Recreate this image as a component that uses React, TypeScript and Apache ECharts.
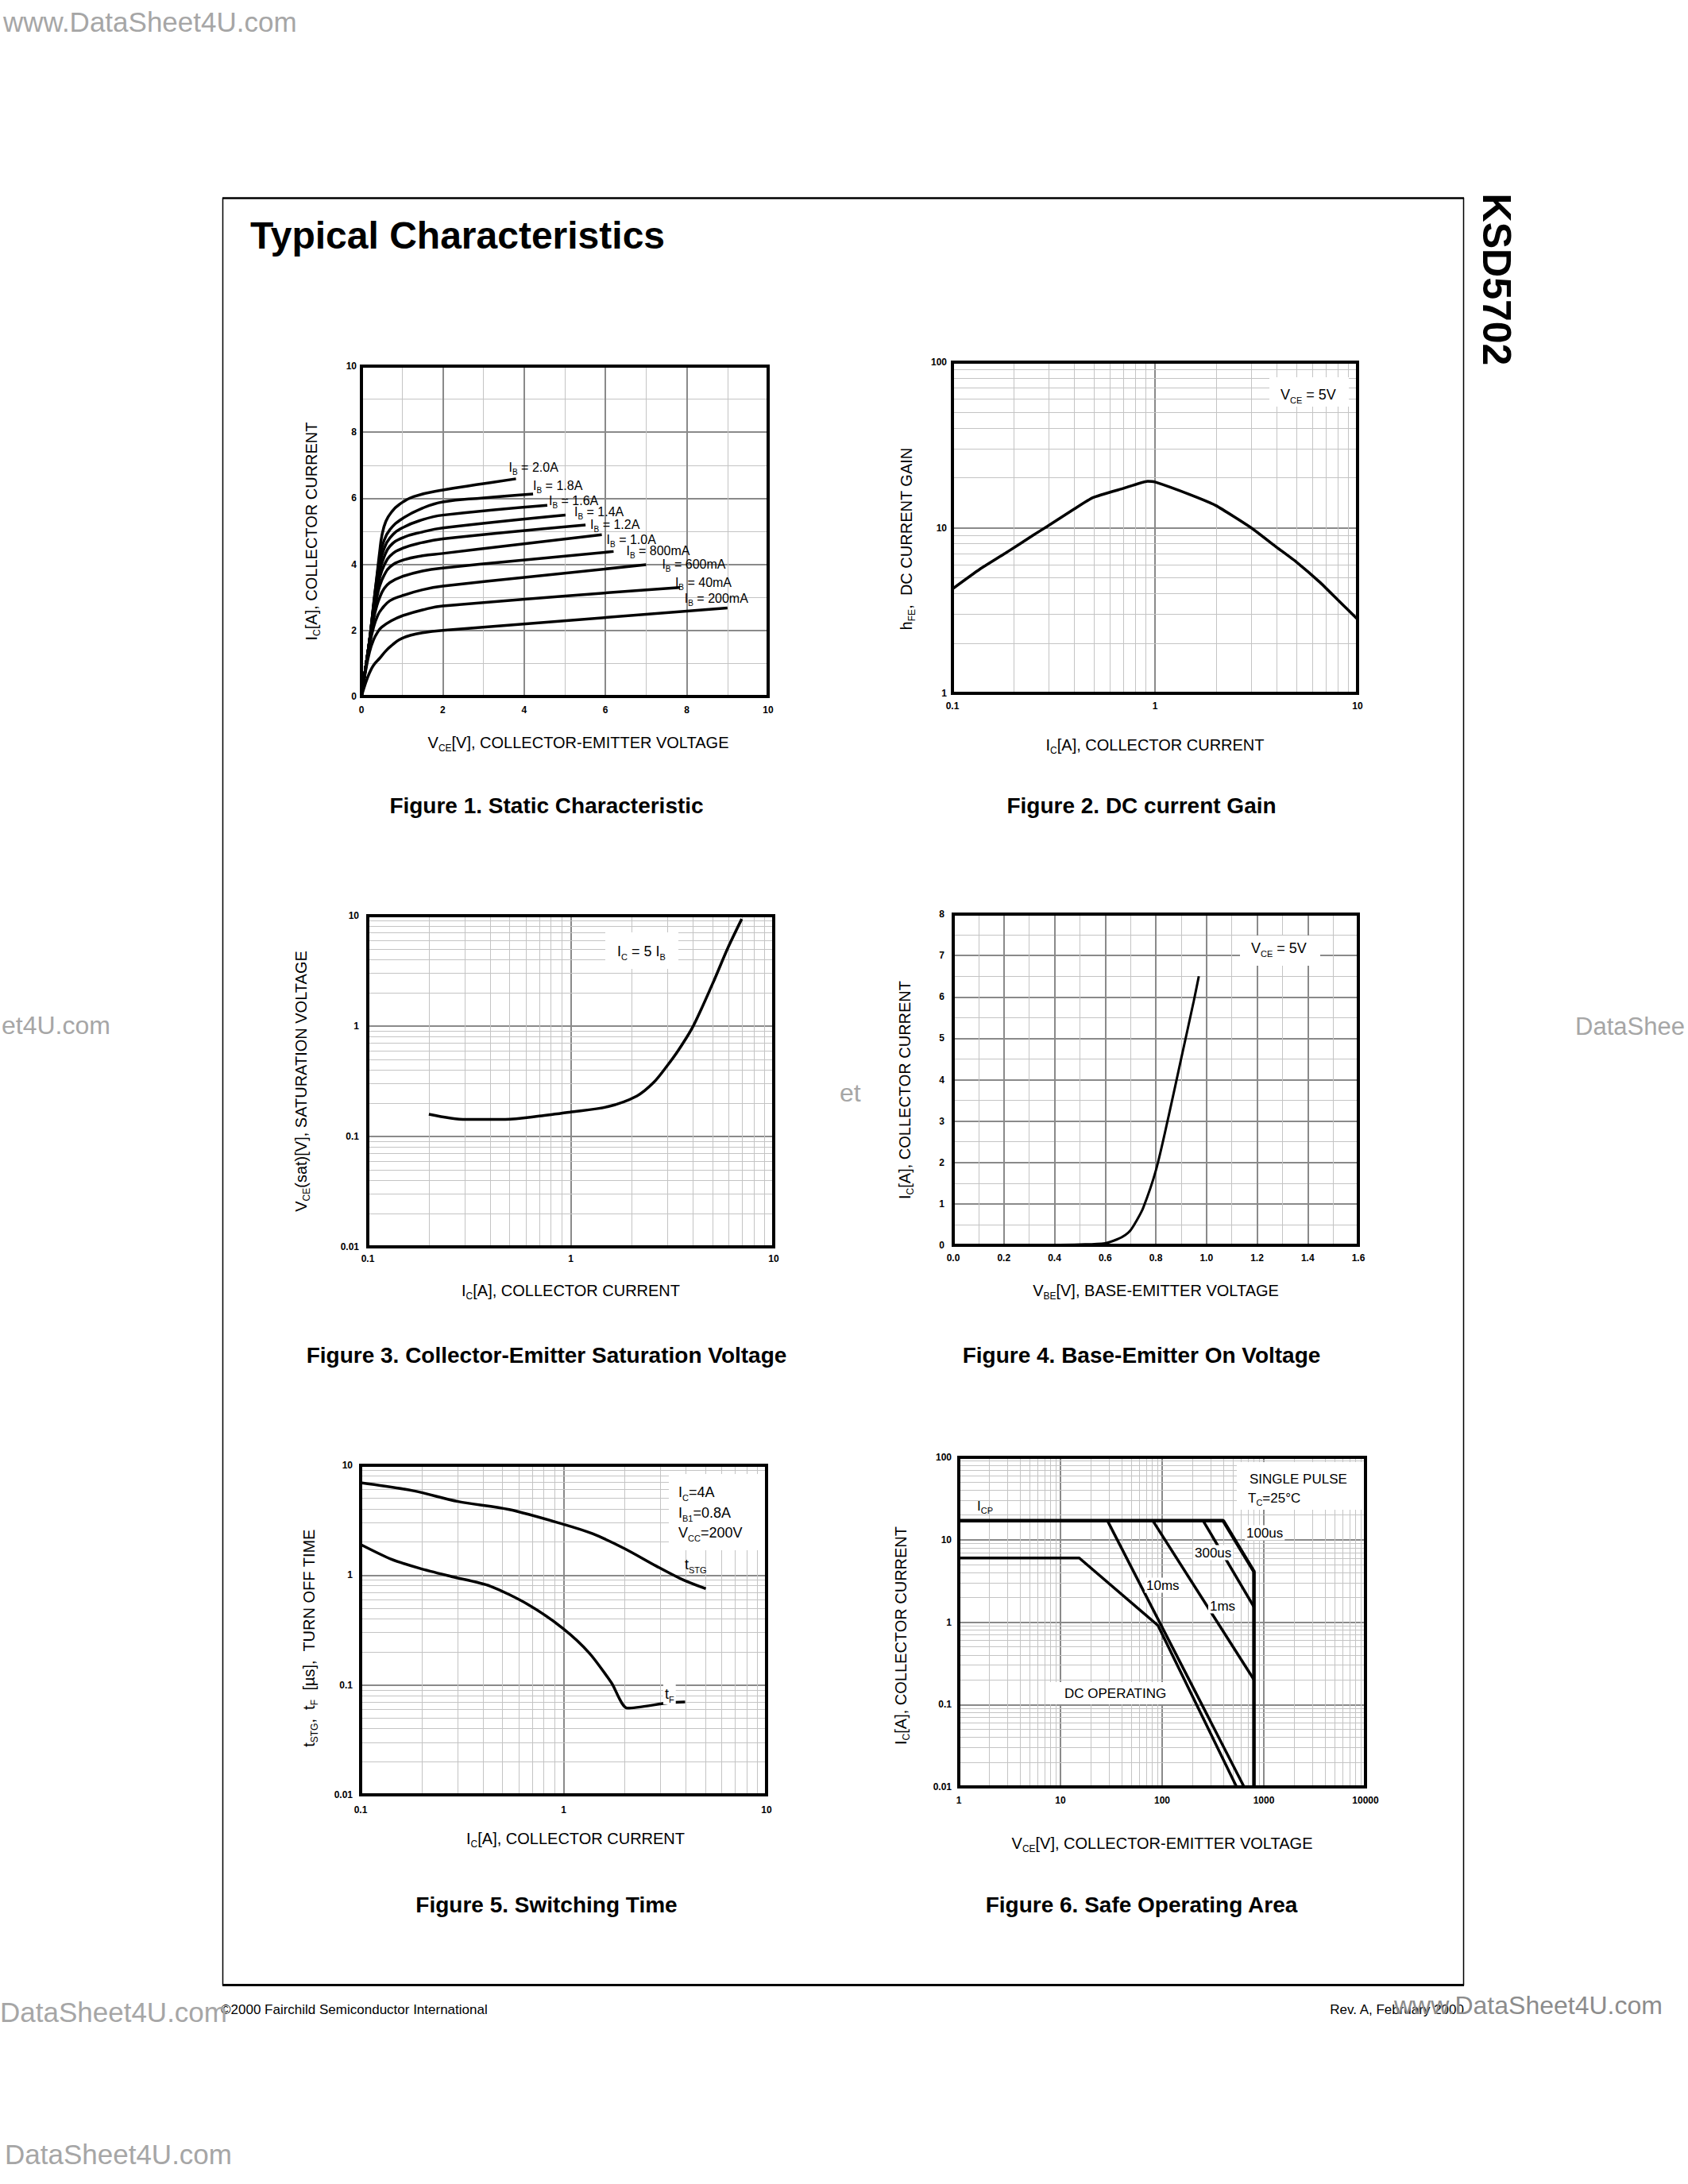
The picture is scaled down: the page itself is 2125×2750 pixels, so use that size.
import React, { useEffect, useRef } from "react";
import * as echarts from "echarts";

const F = "'Liberation Sans', Arial, Helvetica, sans-serif";

// ---------------- Figure 1: static characteristic [VCE (V), IC (A)] ----------------
const ib2000mA = [[0, 0], [0.1, 0.85], [0.2, 1.7], [0.3, 2.8], [0.38, 3.65], [0.45, 4.4], [0.5, 4.85], [0.6, 5.3], [0.75, 5.6], [0.93, 5.81], [1.28, 6.05], [2, 6.25], [3, 6.44], [3.8, 6.59]];
const ib1800mA = [[0, 0], [0.1, 0.85], [0.2, 1.7], [0.3, 2.8], [0.38, 3.6], [0.45, 4.2], [0.55, 4.7], [0.7, 5.05], [1, 5.38], [1.5, 5.7], [2, 5.89], [3, 6.01], [4.22, 6.13]];
const ib1600mA = [[0, 0], [0.1, 0.85], [0.2, 1.7], [0.3, 2.75], [0.38, 3.5], [0.45, 4.0], [0.55, 4.45], [0.7, 4.8], [1, 5.1], [1.5, 5.35], [2, 5.49], [4.57, 5.79]];
const ib1400mA = [[0, 0], [0.1, 0.85], [0.2, 1.7], [0.3, 2.7], [0.38, 3.35], [0.45, 3.8], [0.55, 4.2], [0.7, 4.55], [1, 4.8], [1.5, 4.98], [2, 5.1], [5.02, 5.49]];
const ib1200mA = [[0, 0], [0.1, 0.85], [0.2, 1.7], [0.3, 2.6], [0.38, 3.2], [0.45, 3.6], [0.55, 3.95], [0.7, 4.25], [1, 4.48], [1.5, 4.66], [2, 4.77], [5.51, 5.19]];
const ib1000mA = [[0, 0], [0.1, 0.85], [0.2, 1.7], [0.3, 2.5], [0.38, 3.0], [0.45, 3.35], [0.55, 3.65], [0.7, 3.92], [1, 4.12], [1.5, 4.26], [2, 4.33], [5.91, 4.9]];
const ib800mA = [[0, 0], [0.1, 0.85], [0.2, 1.65], [0.3, 2.35], [0.38, 2.75], [0.45, 3.0], [0.55, 3.25], [0.7, 3.45], [1, 3.63], [1.5, 3.8], [2, 3.89], [6.2, 4.39]];
const ib600mA = [[0, 0], [0.1, 0.8], [0.2, 1.55], [0.3, 2.1], [0.4, 2.45], [0.5, 2.65], [0.7, 2.9], [1, 3.05], [1.5, 3.23], [2, 3.34], [7.0, 3.99]];
const ib400mA = [[0, 0], [0.1, 0.75], [0.2, 1.35], [0.3, 1.72], [0.4, 1.95], [0.5, 2.1], [0.75, 2.3], [1, 2.44], [1.5, 2.62], [2, 2.74], [7.83, 3.3]];
const ib200mA = [[0, 0], [0.1, 0.4], [0.2, 0.72], [0.3, 0.95], [0.45, 1.16], [0.6, 1.38], [0.75, 1.55], [0.93, 1.72], [1.2, 1.85], [1.5, 1.93], [2, 2.0], [9, 2.68]];
const fig1Curves = [ib2000mA, ib1800mA, ib1600mA, ib1400mA, ib1200mA, ib1000mA, ib800mA, ib600mA, ib400mA, ib200mA];
const fig1Labels = ["2.0A", "1.8A", "1.6A", "1.4A", "1.2A", "1.0A", "800mA", "600mA", "40mA", "200mA"];

// ---------------- Figure 2: DC current gain ----------------
const gainIc = [0.1, 0.136, 0.182, 0.25, 0.294, 0.4, 0.493, 0.7, 0.92, 1.0, 1.5, 2, 3, 4, 5, 6.5, 8, 10];
const gainHfe = [4.27, 5.6, 7.0, 9.0, 10.2, 13.0, 15.2, 17.3, 19.1, 18.9, 15.8, 13.6, 9.95, 7.6, 6.2, 4.7, 3.66, 2.8];

// ---------------- Figure 3: VCE(sat) ----------------
const satIc = [0.2, 0.304, 0.476, 0.7, 0.986, 1.52, 2.12, 2.56, 2.97, 3.39, 4.01, 5.01, 5.93, 6.96];
const satVce = [0.159, 0.1425, 0.143, 0.153, 0.166, 0.186, 0.233, 0.308, 0.431, 0.603, 0.998, 2.44, 5.05, 9.34];

// ---------------- Figure 4: base-emitter on voltage ----------------
const onVbe = [0.38, 0.5, 0.6, 0.65, 0.68, 0.7, 0.72, 0.75, 0.8, 0.85, 0.9, 0.95, 0.97];
const onIc = [0.01, 0.02, 0.05, 0.15, 0.25, 0.36, 0.55, 0.9, 1.8, 3.1, 4.5, 5.9, 6.5];

// ---------------- Figure 5: switching time ----------------
const tstgIc = [0.1, 0.182, 0.302, 0.54, 1.0, 1.39, 1.99, 2.86, 3.83, 5.02];
const tstgUs = [6.94, 5.86, 4.68, 3.95, 2.9, 2.38, 1.75, 1.21, 0.916, 0.752];
const tfIc = [0.1, 0.141, 0.196, 0.281, 0.434, 0.672, 1.0, 1.34, 1.72, 2.07, 3.31, 3.97];
const tfUs = [1.9, 1.4, 1.15, 0.969, 0.796, 0.537, 0.324, 0.195, 0.105, 0.0615, 0.0689, 0.07];

// ---------------- Figure 6: safe operating area ----------------
const soaLimitV = [1, 399, 800, 800];
const soaLimitI = [17, 17, 4.1, 0.01];
const soa300usV = [253, 800];
const soa300usI = [17, 1.53];
const soa1msV = [81, 800];
const soa1msI = [17, 0.2];
const soa10msV = [29, 640];
const soa10msI = [17, 0.01];
const soaDcV = [1, 15.3, 91, 540];
const soaDcI = [6, 6, 0.91, 0.01];

// ---------------- layout (pixels) ----------------
const GRIDS = [
  { left: 455, top: 461, width: 512, height: 416 },
  { left: 1199, top: 456, width: 510, height: 417 },
  { left: 463, top: 1153, width: 511, height: 417 },
  { left: 1200, top: 1151, width: 510, height: 417 },
  { left: 454, top: 1845, width: 511, height: 415 },
  { left: 1207, top: 1835, width: 512, height: 415 },
];
const fig1LabelOffsets = [[-17, -14], [-8, -10], [-6, -6], [3, -4], [-2, -1], [-2, 6], [8, -1], [12, -1], [-14, -6], [-62, -12]];

const zip = (xs: number[], ys: number[]) => xs.map((x, i) => [x, ys[i]]);

function rich(size: number) {
  const sub = Math.round(size * 0.62);
  return {
    n: { fontSize: size, lineHeight: size + 6, fontFamily: F, color: "#000", fill: "#000" },
    s: { fontSize: sub, lineHeight: sub, verticalAlign: "bottom", fontFamily: F, color: "#000", fill: "#000" },
  };
}

function logMinors(lo: number, hi: number) {
  const out: number[] = [];
  for (let d = lo; d < hi * 0.999; d *= 10) {
    for (let m = 2; m <= 9; m++) out.push(+(d * m).toPrecision(6));
  }
  return out;
}

const logFmt = (v: number) => String(+Number(v).toPrecision(4));

function mkAxis(o: any) {
  const ax: any = {
    type: o.type,
    gridIndex: o.g,
    min: o.min,
    max: o.max,
    axisLine: { show: false },
    axisTick: { show: false },
    axisLabel: { color: "#000", fontSize: 12, fontWeight: "bold", fontFamily: F, margin: o.margin, formatter: o.fmt },
    splitLine: { show: true, lineStyle: { color: "#8a8a8a", width: 2 } },
    name: o.name,
    nameLocation: "middle",
    nameGap: o.gap,
    nameTextStyle: { fontSize: 20, fontFamily: F, color: "#000", rich: rich(20), padding: o.pad || 0 },
  };
  if (o.type === "log") ax.logBase = 10;
  if (o.interval) ax.interval = o.interval;
  if (o.minor) {
    ax.minorTick = { show: false, splitNumber: o.minor };
    ax.minorSplitLine = { show: true, lineStyle: { color: "#c4c4c4", width: 1 } };
  }
  return ax;
}

const NAME_IC = "{n|I}{s|C}{n|[A], COLLECTOR CURRENT}";

const xAxes = [
  mkAxis({ g: 0, type: "value", min: 0, max: 10, interval: 2, minor: 2, margin: 11, gap: 45, pad: [0, 0, 0, 34], name: "{n|V}{s|CE}{n|[V], COLLECTOR-EMITTER VOLTAGE}" }),
  mkAxis({ g: 1, type: "log", min: 0.1, max: 10, margin: 10, gap: 52, fmt: logFmt, name: NAME_IC }),
  mkAxis({ g: 2, type: "log", min: 0.1, max: 10, margin: 9, gap: 42, fmt: logFmt, name: NAME_IC }),
  mkAxis({ g: 3, type: "value", min: 0, max: 1.6, interval: 0.2, minor: 2, margin: 10, gap: 44, fmt: (v: number) => v.toFixed(1), name: "{n|V}{s|BE}{n|[V], BASE-EMITTER VOLTAGE}" }),
  mkAxis({ g: 4, type: "log", min: 0.1, max: 10, margin: 13, gap: 42, pad: [0, 0, 0, 30], fmt: logFmt, name: NAME_IC }),
  mkAxis({ g: 5, type: "log", min: 1, max: 10000, margin: 11, gap: 58, fmt: logFmt, name: "{n|V}{s|CE}{n|[V], COLLECTOR-EMITTER VOLTAGE}" }),
];
const yAxes = [
  mkAxis({ g: 0, type: "value", min: 0, max: 10, interval: 2, minor: 2, margin: 6, gap: 50, name: NAME_IC }),
  mkAxis({ g: 1, type: "log", min: 1, max: 100, margin: 7, gap: 45, pad: [0, 28, 0, 0], fmt: logFmt, name: "{n|h}{s|FE}{n|,  DC CURRENT GAIN}" }),
  mkAxis({ g: 2, type: "log", min: 0.01, max: 10, margin: 11, gap: 71, fmt: logFmt, name: "{n|V}{s|CE}{n|(sat)[V], SATURATION VOLTAGE}" }),
  mkAxis({ g: 3, type: "value", min: 0, max: 8, interval: 1, minor: 2, margin: 11, gap: 48, pad: [0, 26, 0, 0], name: NAME_IC }),
  mkAxis({ g: 4, type: "log", min: 0.01, max: 10, margin: 10, gap: 52, pad: [0, 20, 0, 0], fmt: logFmt, name: "{n|t}{s|STG}{n|,  t}{s|F}{n|  [µs],  TURN OFF TIME}" }),
  mkAxis({ g: 5, type: "log", min: 0.01, max: 100, margin: 9, gap: 60, pad: [0, 34, 0, 0], fmt: logFmt, name: NAME_IC }),
];

function minorGrid(i: number, xs: number[], ys: number[]) {
  return {
    type: "line",
    xAxisIndex: i,
    yAxisIndex: i,
    data: [],
    silent: true,
    z: 1,
    markLine: {
      silent: true,
      z: 1,
      symbol: ["none", "none"],
      label: { show: false },
      lineStyle: { color: "#c4c4c4", width: 1, type: "solid" },
      emphasis: { disabled: true },
      data: [...xs.map((v) => ({ xAxis: v })), ...ys.map((v) => ({ yAxis: v }))],
    },
  };
}

function curve(i: number, data: any[], extra: any = {}) {
  return {
    type: "line",
    xAxisIndex: i,
    yAxisIndex: i,
    data,
    showSymbol: false,
    silent: true,
    z: 3,
    lineStyle: { color: "#000", width: 3.5 },
    ...extra,
  };
}

function txt(x: number, y: number, text: string, size: number, o: any = {}) {
  return {
    type: "text",
    x,
    y,
    z: o.z ?? 10,
    rotation: o.rot ?? 0,
    silent: true,
    style: {
      text,
      rich: rich(size),
      fontSize: size,
      fontFamily: F,
      fontWeight: o.bold ? "bold" : "normal",
      fill: o.color ?? "#000",
      align: o.align ?? "left",
      verticalAlign: "middle",
      backgroundColor: o.bg,
      padding: o.bg ? [1, 2] : 0,
    },
  };
}

function whiteRect(x: number, y: number, w: number, h: number) {
  return { type: "rect", z: 9, silent: true, shape: { x, y, width: w, height: h }, style: { fill: "#fff" } };
}

function buildOption() {
  const series: any[] = [];
  series.push(minorGrid(1, logMinors(0.1, 10), logMinors(1, 100)));
  series.push(minorGrid(2, logMinors(0.1, 10), logMinors(0.01, 10)));
  series.push(minorGrid(4, logMinors(0.1, 10), logMinors(0.01, 10)));
  series.push(minorGrid(5, logMinors(1, 10000), logMinors(0.01, 100)));

  fig1Curves.forEach((c, k) => {
    series.push(
      curve(0, c, {
        smooth: 0.45,
        endLabel: {
          show: true,
          formatter: () => "{n|I}{s|B}{n| = " + fig1Labels[k] + "}",
          rich: rich(16),
          offset: fig1LabelOffsets[k],
        },
      })
    );
  });
  series.push(curve(1, zip(gainIc, gainHfe), { smooth: 0.15 }));
  series.push(curve(2, zip(satIc, satVce), { smooth: 0.3 }));
  series.push(curve(3, zip(onVbe, onIc), { smooth: 0.3, lineStyle: { color: "#000", width: 3 } }));
  series.push(curve(4, zip(tstgIc, tstgUs), { smooth: 0.3 }));
  series.push(curve(4, zip(tfIc, tfUs), { smooth: 0.25 }));
  series.push(curve(5, zip(soaLimitV, soaLimitI), { lineStyle: { color: "#000", width: 4.5 } }));
  series.push(curve(5, zip(soa300usV, soa300usI)));
  series.push(curve(5, zip(soa1msV, soa1msI)));
  series.push(curve(5, zip(soa10msV, soa10msI)));
  series.push(curve(5, zip(soaDcV, soaDcI)));

  const g: any[] = [];
  // page frame
  g.push({ type: "line", z: 20, silent: true, shape: { x1: 280, y1: 249.5, x2: 1843, y2: 249.5 }, style: { stroke: "#000", lineWidth: 2.5 } });
  g.push({ type: "line", z: 20, silent: true, shape: { x1: 280, y1: 2499.5, x2: 1843, y2: 2499.5 }, style: { stroke: "#000", lineWidth: 3 } });
  g.push({ type: "line", z: 20, silent: true, shape: { x1: 280.5, y1: 249, x2: 280.5, y2: 2500 }, style: { stroke: "#000", lineWidth: 1.5 } });
  g.push({ type: "line", z: 20, silent: true, shape: { x1: 1842.5, y1: 249, x2: 1842.5, y2: 2500 }, style: { stroke: "#000", lineWidth: 1.5 } });
  // plot frames
  GRIDS.forEach((r) => {
    g.push({ type: "rect", z: 20, silent: true, shape: { x: r.left, y: r.top, width: r.width, height: r.height }, style: { fill: "none", stroke: "#000", lineWidth: 4 } });
  });
  // headings
  g.push(txt(315, 296, "Typical Characteristics", 48, { bold: true }));
  g.push(txt(1884, 352, "KSD5702", 50, { bold: true, align: "center", rot: -Math.PI / 2 }));
  // captions
  g.push(txt(688, 1014, "Figure 1. Static Characteristic", 28, { bold: true, align: "center" }));
  g.push(txt(1437, 1014, "Figure 2. DC current Gain", 28, { bold: true, align: "center" }));
  g.push(txt(688, 1706, "Figure 3. Collector-Emitter Saturation Voltage", 28, { bold: true, align: "center" }));
  g.push(txt(1437, 1706, "Figure 4. Base-Emitter On Voltage", 28, { bold: true, align: "center" }));
  g.push(txt(688, 2398, "Figure 5. Switching Time", 28, { bold: true, align: "center" }));
  g.push(txt(1437, 2398, "Figure 6. Safe Operating Area", 28, { bold: true, align: "center" }));
  // footer
  g.push(txt(278, 2530, "©2000 Fairchild Semiconductor International", 17));
  g.push(txt(1843, 2530, "Rev. A, February 2000", 17, { align: "right" }));

  // figure 2 note
  g.push(whiteRect(1598, 475, 100, 37));
  g.push(txt(1612, 497, "{n|V}{s|CE}{n| = 5V}", 18));
  // figure 3 note
  g.push(whiteRect(762, 1174, 92, 46));
  g.push(txt(777, 1198, "{n|I}{s|C}{n| = 5 I}{s|B}", 18));
  // figure 4 note
  g.push(whiteRect(1561, 1178, 101, 38));
  g.push(txt(1575, 1194, "{n|V}{s|CE}{n| = 5V}", 18));
  // figure 5 notes
  g.push(whiteRect(842, 1856, 123, 96));
  g.push(txt(854, 1879, "{n|I}{s|C}{n|=4A}", 18));
  g.push(txt(854, 1905, "{n|I}{s|B1}{n|=0.8A}", 18));
  g.push(txt(854, 1930, "{n|V}{s|CC}{n|=200V}", 18));
  g.push(txt(862, 1970, "{n|t}{s|STG}", 18));
  g.push(txt(835, 2133, "{n|t}{s|F}", 18, { bg: "#fff" }));
  // figure 6 notes
  g.push(whiteRect(1557, 1841, 162, 60));
  g.push(txt(1573, 1862, "SINGLE PULSE", 17));
  g.push(txt(1571, 1886, "{n|T}{s|C}{n|=25°C}", 17));
  g.push(txt(1230, 1896, "{n|I}{s|CP}", 17));
  g.push(txt(1567, 1930, "100us", 17, { bg: "#fff" }));
  g.push(txt(1502, 1955, "300us", 17, { bg: "#fff" }));
  g.push(txt(1441, 1996, "10ms", 17, { bg: "#fff" }));
  g.push(txt(1521, 2022, "1ms", 17, { bg: "#fff" }));
  g.push(whiteRect(1317, 2118, 162, 28));
  g.push(txt(1340, 2132, "DC OPERATING", 17));

  // watermarks (only the visible parts of those cut by the page edges)
  const wm = "#a6a6a6";
  g.push(txt(4, 27, "www.DataSheet4U.com", 35, { color: wm, z: 30 }));
  g.push(txt(2, 1291, "et4U.com", 32, { color: wm, z: 30 }));
  g.push(txt(1983, 1292, "DataShee", 31, { color: wm, z: 30 }));
  g.push(txt(1057, 1376, "et", 32, { color: wm, z: 30 }));
  g.push(txt(0, 2533, "DataSheet4U.com", 35, { color: wm, z: 30 }));
  g.push(txt(1755, 2525, "www.DataSheet4U.com", 32, { color: "#8c8c8c", z: 30 }));
  g.push(txt(6, 2712, "DataSheet4U.com", 35, { color: wm, z: 30 }));

  return {
    animation: false,
    backgroundColor: "#fff",
    grid: GRIDS.map((r) => ({ ...r, containLabel: false })),
    xAxis: xAxes,
    yAxis: yAxes,
    series,
    graphic: { elements: g },
  };
}

export default function App() {
  const ref = useRef<HTMLDivElement>(null);
  useEffect(() => {
    const chart = echarts.init(ref.current as HTMLDivElement, undefined, { renderer: "svg" });
    chart.setOption(buildOption() as any);
    return () => chart.dispose();
  }, []);
  return (
    <div
      ref={ref}
      style={{ position: "absolute", left: 0, top: 0, width: 2125, height: 2750, background: "#fff" }}
    />
  );
}
